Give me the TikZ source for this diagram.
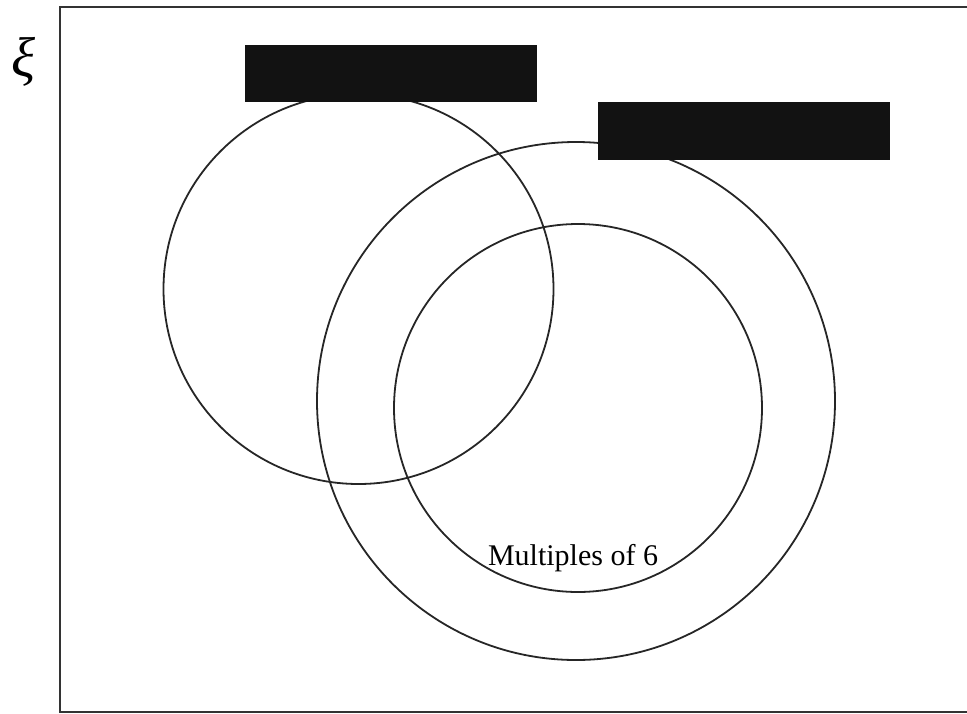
\documentclass[tikz,border=0pt]{standalone}
\usepackage{fontspec}
\setmainfont{Liberation Serif}
\begin{document}
\begin{tikzpicture}[x=1pt,y=-1pt,
  venn/.style={draw=black!85,line width=1.8pt},
  frame/.style={draw=black!80,line width=2pt},
  redact/.style={fill=black!93,draw=none}]
\useasboundingbox (0,0) rectangle (967,713);
% universal set frame (right side beyond the picture)
\draw[frame] (967,7) -- (60,7) -- (60,712) -- (967,712);
\node (xi) at (23,62) {\fontsize{56}{56}\selectfont\itshape ξ};
% sets
\draw[venn] (358.5,289) circle[radius=195];
\draw[venn] (576,401) circle[radius=259];
\draw[venn] (578,408) circle[radius=184];
% redacted labels
\fill[redact] (245,45) rectangle (537,102);
\fill[redact] (598,102) rectangle (890,160);
\node[anchor=base,inner sep=0pt] (m6) at (573,565) {\fontsize{30}{30}\selectfont Multiples of 6};
\end{tikzpicture}
\end{document}
